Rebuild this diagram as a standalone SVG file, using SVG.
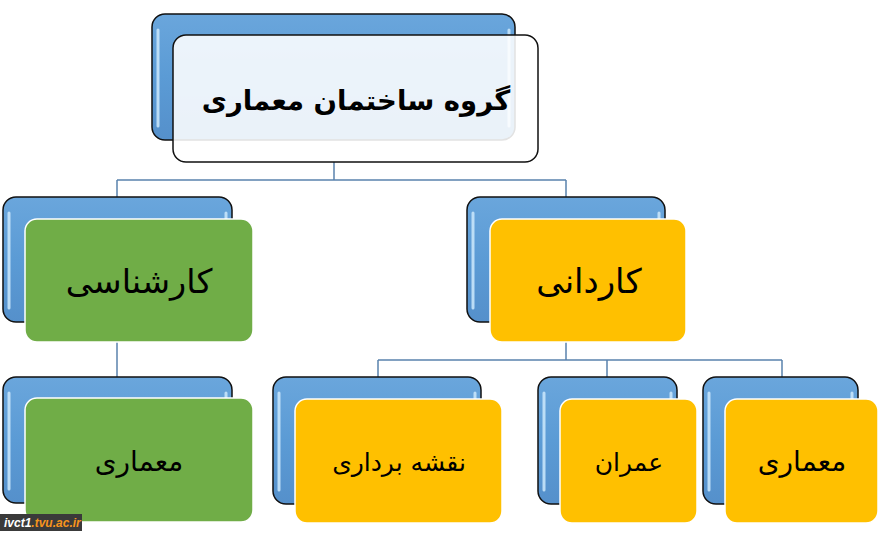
<svg xmlns="http://www.w3.org/2000/svg" width="883" height="540" viewBox="0 0 883 540">
<defs>
<linearGradient id="blueG" x1="0" y1="0" x2="0" y2="1">
<stop offset="0" stop-color="#6AA6DC"/>
<stop offset="0.5" stop-color="#5B9BD5"/>
<stop offset="1" stop-color="#5590CB"/>
</linearGradient>
<style>
.back{fill:url(#blueG);stroke:#111;stroke-width:1.5}
.hl{fill:none;stroke:#C6E4FA;stroke-width:3;stroke-linecap:round;opacity:0.9}
.green{fill:#70AD47;stroke:#fff;stroke-width:1.5}
.yellow{fill:#FFC000;stroke:#fff;stroke-width:1.5}
.white{fill:#fff;fill-opacity:0.88;stroke:#111;stroke-width:1.5}
.conn{fill:none;stroke:#5A82AD;stroke-width:1.5}
.t{font-family:"DejaVu Sans",sans-serif;fill:#000;text-anchor:middle}
</style>
</defs>
<g id="connectors">
<path class="conn" d="M334 162V180M117 180H566M117 180V197M566 180V197"/>
<path class="conn" d="M117 342V377"/>
<path class="conn" d="M566 342V360M378 360H782M378 360V377M607 360V377M782 360V377"/>
</g>
<g id="node-root">
<rect class="back" x="152" y="14" width="363" height="126" rx="13"/>
<path class="hl" d="M158 30V126M509 30V126"/>
<rect class="white" x="173" y="35" width="365" height="127" rx="13"/>
<text class="t" x="356" y="110" font-size="27.5" font-weight="bold" direction="rtl">گروه ساختمان معماری</text>
</g>
<g id="node-karshenasi">
<rect class="back" x="3" y="197" width="229" height="125" rx="13"/>
<path class="hl" d="M9 213V308M226 213V308"/>
<rect class="green" x="25" y="219" width="228" height="123" rx="12"/>
<text class="t" x="139" y="293" font-size="33.5" direction="rtl">کارشناسی</text>
</g>
<g id="node-kardani">
<rect class="back" x="467" y="197" width="198" height="125" rx="13"/>
<path class="hl" d="M473 213V308M659 213V308"/>
<rect class="yellow" x="490" y="219" width="196" height="123" rx="12"/>
<text class="t" x="589" y="293" font-size="34" direction="rtl">کاردانی</text>
</g>
<g id="node-k-memari">
<rect class="back" x="3" y="377" width="229" height="126" rx="13"/>
<path class="hl" d="M9 393V489M226 393V489"/>
<rect class="green" x="25" y="398" width="228" height="124" rx="12"/>
<text class="t" x="139" y="471" font-size="28" direction="rtl">معماری</text>
</g>
<g id="node-naghshe">
<rect class="back" x="273" y="377" width="208" height="127" rx="13"/>
<path class="hl" d="M279 393V490M475 393V490"/>
<rect class="yellow" x="295" y="399" width="207" height="124" rx="12"/>
<text class="t" x="399" y="471" font-size="25" direction="rtl">نقشه برداری</text>
</g>
<g id="node-omran">
<rect class="back" x="538" y="377" width="139" height="127" rx="13"/>
<path class="hl" d="M544 393V490M671 393V490"/>
<rect class="yellow" x="560" y="399" width="137" height="124" rx="12"/>
<text class="t" x="629" y="471" font-size="25" direction="rtl">عمران</text>
</g>
<g id="node-memari">
<rect class="back" x="703" y="377" width="155" height="127" rx="13"/>
<path class="hl" d="M709 393V490M852 393V490"/>
<rect class="yellow" x="725" y="399" width="153" height="124" rx="12"/>
<text class="t" x="802" y="471" font-size="28" direction="rtl">معماری</text>
</g>
<g id="watermark">
<rect x="0" y="514" width="82" height="17" fill="#3A3A3A"/>
<text x="4" y="527" font-family="Liberation Sans,sans-serif" font-size="12" font-weight="bold" font-style="italic" fill="#fff">ivct1<tspan fill="#F7941D">.tvu.ac.ir</tspan></text>
</g>
</svg>
